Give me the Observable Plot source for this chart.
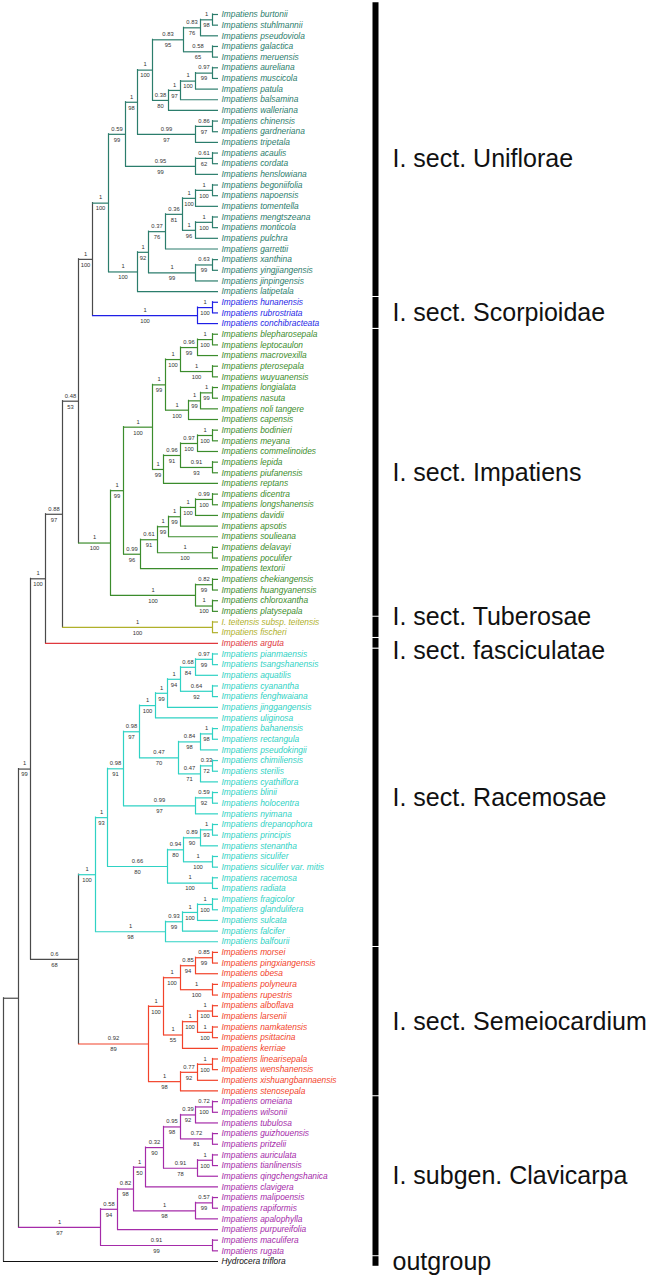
<!DOCTYPE html>
<html><head><meta charset="utf-8">
<script src="https://cdn.jsdelivr.net/npm/d3@7"></script>
<script src="https://cdn.jsdelivr.net/npm/@observablehq/plot@0.6"></script>
<style>body{margin:0;background:#fff} svg{display:block}</style>
</head><body><div id="chart"></div>
<script>
// ---------- DATA: topology (Newick, branch lengths, node labels = PP/BS) ----------
const uniflorae = `(
 (
  (
   (
    (((burtonii,stuhlmannii)'1/98':12,pseudoviola)'0.83/76':17,(galactica,meruensis)'0.58/65':29)'0.83/95':31,
    ((((aureliana,muscicola)'0.97/99':17,patula)'1/100':15,balsamina)'1/97':12,walleriana)'0.38/80':16
   )'1/100':15,
   ((chinensis,gardneriana)'0.86/97':17,tripetala)'0.99/97':58
  )'1/98':12,
  ((acaulis,cordata)'0.61/62':17,henslowiana)'0.95/99':70
 )'0.59/99':17,
 (
  (
   ((((begoniifolia,napoensis)'1/100':17,tomentella)'1/100':13,((mengtszeana,monticola)'1/100':17,pulchra)'1/96':13)'0.36/81':17,garrettii)'0.37/76':17,
   ((xanthina,yingjiangensis)'0.63/99':17,jinpingensis)'1/99':47
  )'1/92':11,
  latipetala
 )'1/100':29
)'1/100'`;

const scorpioidae = `((hunanensis,rubrostriata)'1/100':15,conchibracteata)'1/100'`;

const impatiens = `(
 (
  (
   (
    (((blepharosepala,leptocaulon)'1/100':15,macrovexilla)'0.96/99':17,(pterosepala,wuyuanensis)'1/100':32)'1/100':15,
    (((longialata,nasuta)'1/99':12,'noli tangere')'1/99':12,capensis)'1/100':23
   )'1/99':13,
   ((((bodinieri,meyana)'1/100':15,commelinoides)'0.97/100':17,(lepida,piufanensis)'0.91/93':32)'0.96/91':17,reptans)'1/99':11
  )'1/100':29,
  (
   (((((dicentra,longshanensis)'0.99/100':17,davidii)'1/100':15,apsotis)'1/99':12,soulieana)'1/99':11,(delavayi,poculifer)'1/100':55)'0.61/91':17,
   textorii
  )'0.99/96':17
 )'1/99':13,
 ((chekiangensis,huangyanensis)'0.82/99':17,(chloroxantha,platysepala)'1/100':17)'1/100':85
)'1/100'`;

const tuberosae = `('I. teitensis subsp. teitensis',fischeri)'1/100'`;
const fasciculatae = `arguta`;

const racemosae = `(
 (
  (
   (
    (
     (
      (((pianmaensis,tsangshanensis)'0.97/99':17,aquatilis)'0.68/84':15,(cyanantha,fenghwaiana)'0.64/92':32)'1/94':13,
      jinggangensis
     )'1/99':12,
     uliginosa
    )'1/100':16,
    (((bahanensis,rectangula)'1/98':12,pseudokingii)'0.84/98':22,((chimiliensis,sterilis)'0.33/72':12,cyathiflora)'0.47/71':22)'0.47/70':39
   )'0.98/97':16,
   ((blinii,holocentra)'0.59/92':17,nyimana)'0.99/97':72
  )'0.98/91':16,
  (
   (((drepanophora,principis)'1/93':12,stenantha)'0.89/90':17,(siculifer,'siculifer var. mitis')'1/100':29)'0.94/80':16,
   (racemosa,radiata)'1/100':45
  )'0.66/80':60
 )'1/93':12,
 (
  (((fragicolor,glandulifera)'1/100':15,sulcata)'1/100':15,falcifer)'0.93/99':17,
  balfourii
 )'1/98':70
)'1/100'`;

const semeiocardium = `(
 (
  (((morsei,pingxiangensis)'0.85/99':17,obesa)'0.85/94':15,(polyneura,rupestris)'1/100':32)'1/100':17,
  (((alboflava,larsenii)'1/100':15,(namkatensis,psittacina)'1/100':15)'1/100':15,kerriae)'1/55':19
 )'1/100':15,
 (((linearisepala,wenshanensis)'1/100':15,xishuangbannaensis)'0.77/92':17,stenosepala)'1/98':32
)'0.92/89'`;

const clavicarpa = `(
 (
  (
   (
    (
     (((omeiana,wilsonii)'0.72/100':17,tubulosa)'0.39/92':15,(guizhouensis,pritzelii)'0.72/81':32)'0.95/98':17,
     ((auriculata,tianlinensis)'1/100':15,qingchengshanica)'0.91/78':34
    )'0.32/90':18,
    clavigera
   )'1/50':12,
   ((malipoensis,rapiformis)'0.57/99':17,apalophylla)'1/98':62
  )'0.82/98':16,
  purpureifolia
 )'0.58/94':17,
 (maculifera,rugata)'0.91/99':112
)'1/97'`;

const outgroup = `'Hydrocera triflora'`;

const backbone = `(((((((@Uniflorae:16,@Scorpioidae:105)'1/100':14,@Impatiens:32)'0.48/53':16,@Tuberosae:150)'0.88/97':17,@fasciculatae:173)'1/100':15,(@Racemosae:17,@Semeiocardium:70)'0.6/68':48)'1/99':12,@Clavicarpa:82):15,@outgroup:215)`;

const sectionKeys     = ["Uniflorae","Scorpioidae","Impatiens","Tuberosae","fasciculatae","Racemosae","Semeiocardium","Clavicarpa","outgroup"];
const sectionPrefixes = ["I. sect. ","I. sect. ","I. sect. ","I. sect. ","I. sect. ","I. sect. ","I. sect. ","I. subgen. ",""];
const sectionTrees    = [uniflorae, scorpioidae, impatiens, tuberosae, fasciculatae, racemosae, semeiocardium, clavicarpa, outgroup];
const sectionColors   = ["#2b7d6c","#1f1fe6","#3b8c2c","#b0b02a","#e0383e","#2fd2c4","#f2432a","#a52ba9","#111111"];
const labelShift      = [0.6, 0, 0, -1.0, 0.7, 0, 0, 0, 0];   // small vertical nudges of section names (tip units)
const TIP_DEPTH = 215;

// ---------- parsing ----------
function parseNewick(str){
  let i=0;
  const ws=()=>{while(i<str.length && /\s/.test(str[i])) i++;};
  function readLabel(){
    ws();
    if(str[i]==="'"){const j=str.indexOf("'",i+1);const s=str.slice(i+1,j);i=j+1;return s;}
    let j=i; while(j<str.length && !",():;".includes(str[j])) j++;
    const s=str.slice(i,j).trim(); i=j; return s;
  }
  function readLength(){
    ws();
    if(str[i]===":"){i++;ws();let j=i;while(j<str.length && /[0-9.eE+-]/.test(str[j])) j++;const v=+str.slice(i,j);i=j;return v;}
    return 0;
  }
  function node(){
    ws();
    const n={children:[]};
    if(str[i]==="("){
      i++;
      n.children.push(node()); ws();
      while(str[i]===","){i++;n.children.push(node());ws();}
      i++;
    }
    n.label=readLabel();
    n.length=readLength();
    return n;
  }
  return node();
}
const subtrees={};
function markSection(n,k){n.section=k;n.children.forEach(c=>markSection(c,k));}
sectionKeys.forEach((k,i)=>{const t=parseNewick(sectionTrees[i]);markSection(t,k);subtrees[k]=t;});
const root=parseNewick(backbone);
(function graft(n){
  n.children=n.children.map(c=>{
    if(!c.children.length && c.label.startsWith("@")){const s=subtrees[c.label.slice(1)];s.length=c.length;return s;}
    graft(c);return c;
  });
})(root);

// ---------- layout ----------
const nodes=[];let tipCount=0;
(function layout(n,depth,parent){
  n.parent=parent;
  n.depth=n.children.length?depth:TIP_DEPTH;
  nodes.push(n);
  if(!n.children.length){n.y=++tipCount;}
  else{
    n.children.forEach(c=>layout(c,n.depth+c.length,n));
    n.y=(n.children[0].y+n.children[n.children.length-1].y)/2;
  }
})(root,0,null);

const BACKBONE="#4a4a4a";
const colorOf=n=>n.section?sectionColors[sectionKeys.indexOf(n.section)]:BACKBONE;
const hEdges=nodes.filter(n=>n.parent).map(n=>({x1:n.parent.depth,x2:n.depth,y:n.y,color:colorOf(n)}));
const vEdges=nodes.filter(n=>n.children.length).map(n=>({x:n.depth,y1:n.children[0].y,y2:n.children[n.children.length-1].y,color:colorOf(n)}));
const tips=nodes.filter(n=>!n.children.length).map(n=>({
  y:n.y,
  name:(n.label.startsWith("I. ")||n.label.startsWith("Hydrocera"))?n.label:"Impatiens "+n.label,
  color:colorOf(n)}));
const supports=nodes.filter(n=>n.children.length&&n.parent&&n.label.includes("/")).map(n=>{
  const [pp,bs]=n.label.split("/");return {x:(n.parent.depth+n.depth)/2,y:n.y,pp,bs};});

const sections=sectionKeys.map((k,i)=>{
  const ys=nodes.filter(n=>!n.children.length&&n.section===k).map(n=>n.y);
  const first=d3.min(ys),last=d3.max(ys);
  return {key:k,prefix:sectionPrefixes[i],first,last,mid:(first+last)/2+labelShift[i]};
});

const BAR_X=372, LABEL_X=389;

const svg=Plot.plot({
  width:660,height:1275,
  marginLeft:3,marginRight:442,marginTop:14,marginBottom:14,
  x:{domain:[0,TIP_DEPTH],axis:null},
  y:{domain:[1,tipCount],reverse:true,axis:null},
  color:{type:"identity"},
  style:{fontFamily:"'Liberation Sans', Arial, sans-serif",background:"#fff"},
  marks:[
    Plot.ruleX(vEdges,{x:"x",y1:"y1",y2:"y2",stroke:"color",strokeWidth:1.2,strokeLinecap:"square"}),
    Plot.ruleY(hEdges,{x1:"x1",x2:"x2",y:"y",stroke:"color",strokeWidth:1.2}),
    Plot.text(tips,{x:TIP_DEPTH,y:"y",text:"name",fill:"color",textAnchor:"start",dx:3,fontSize:8.4,fontStyle:"italic"}),
    Plot.text(supports,{x:"x",y:"y",text:"pp",dy:-5.5,fontSize:5.8,fill:"#333"}),
    Plot.text(supports,{x:"x",y:"y",text:"bs",dy:5.5,fontSize:5.8,fill:"#333"}),
    Plot.ruleX(sections,{x:BAR_X,y1:d=>d.first-(d.key==="Uniflorae"?1.1:0.45),y2:d=>d.last+0.45,stroke:"#000",strokeWidth:6}),
    Plot.text(sections,{x:LABEL_X,y:"mid",text:d=>d.prefix+d.key,textAnchor:"start",fontSize:25,fill:"#111",ariaLabel:"section labels"})
  ]
});
svg.querySelectorAll('g[aria-label="section labels"] text').forEach((t,i)=>{
  const s=sections[i];
  if(!s.prefix) return;
  t.textContent="";
  const a=document.createElementNS("http://www.w3.org/2000/svg","tspan");a.textContent=s.prefix;
  const b=document.createElementNS("http://www.w3.org/2000/svg","tspan");b.textContent=s.key;b.setAttribute("font-style","italic");
  t.appendChild(a);t.appendChild(b);
});
document.getElementById("chart").appendChild(svg);
</script>
</body></html>
